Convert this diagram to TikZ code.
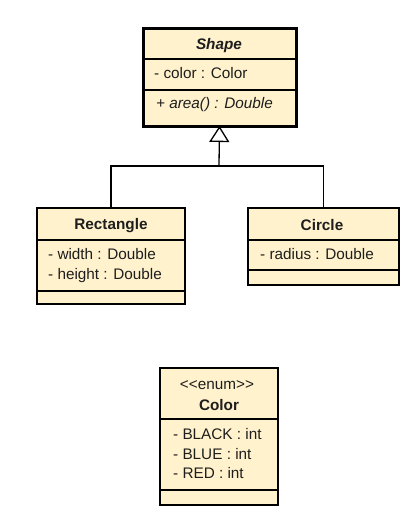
\documentclass[tikz,border=0pt]{standalone}
\usepackage{fontspec}
\setmainfont{Liberation Sans}
\usetikzlibrary{arrows.meta}
\definecolor{umlfill}{RGB}{255,242,204}
\definecolor{umltext}{RGB}{30,30,30}
\begin{document}
\begin{tikzpicture}[x=1pt,y=-1pt,
  classbox/.style={draw=black, fill=umlfill, line width=2.3pt, inner sep=0pt, outer sep=0pt},
  divider/.style={draw=black, line width=1.2pt},
  conn/.style={draw=black, line width=1.3pt},
  lbl/.style={inner sep=0pt, text=umltext, font=\fontsize{15.3}{18}\selectfont},
  attr/.style={lbl, anchor=mid west},
  title/.style={lbl, font=\fontsize{15.3}{18}\selectfont\bfseries}]
\useasboundingbox[fill=white] (0,0) rectangle (417,523);
% Shape
\node[classbox, line width=3pt, minimum width=153pt, minimum height=98pt] (shape) at (219.5,77) {};
\draw[divider] (shape.west |- 0,59) -- (shape.east |- 0,59);
\draw[divider] (shape.west |- 0,90) -- (shape.east |- 0,90);
\node[title, font=\fontsize{15.3}{18}\selectfont\bfseries\itshape] (shapeT) at (219,45.5) {Shape};
\node[attr] (shapeA) at (154,76) {- color : Color};
\node[attr, font=\fontsize{15.3}{18}\selectfont\itshape] (shapeM) at (156,106) {+ area() : Double};
% Rectangle
\node[classbox, minimum width=148pt, minimum height=96pt] (rect) at (111,256) {};
\draw[divider] (rect.west |- 0,240) -- (rect.east |- 0,240);
\draw[divider] (rect.west |- 0,291) -- (rect.east |- 0,291);
\node[title] (rectT) at (111,225.5) {Rectangle};
\node[attr] (rectA1) at (48,257) {- width : Double};
\node[attr] (rectA2) at (48,277) {- height : Double};
% Circle
\node[classbox, minimum width=151pt, minimum height=77pt] (circ) at (323.5,246.5) {};
\draw[divider] (circ.west |- 0,240) -- (circ.east |- 0,240);
\draw[divider] (circ.west |- 0,270) -- (circ.east |- 0,270);
\node[title] (circT) at (322,225.5) {Circle};
\node[attr] (circA) at (260,257) {- radius : Double};
% Color enum
\node[classbox, minimum width=118pt, minimum height=137pt] (color) at (219,436.5) {};
\draw[divider] (color.west |- 0,419) -- (color.east |- 0,419);
\draw[divider] (color.west |- 0,490) -- (color.east |- 0,490);
\node[lbl] (colorS) at (217,385) {{<}{<}enum{>}{>}};
\node[title] (colorT) at (219,405) {Color};
\node[attr] (colorA1) at (173,437) {- BLACK : int};
\node[attr] (colorA2) at (173,457) {- BLUE : int};
\node[attr] (colorA3) at (173,476) {- RED : int};
% Generalization
\coordinate (junc) at (219,166);
\draw[conn] (rect.north) |- (junc);
\draw[conn] (circ.north) |- (junc);
\draw[conn, -{Triangle[open, length=16pt, width=20pt, line width=1.3pt, fill=white]}] (junc) -- (shape.south);
\end{tikzpicture}
\end{document}
